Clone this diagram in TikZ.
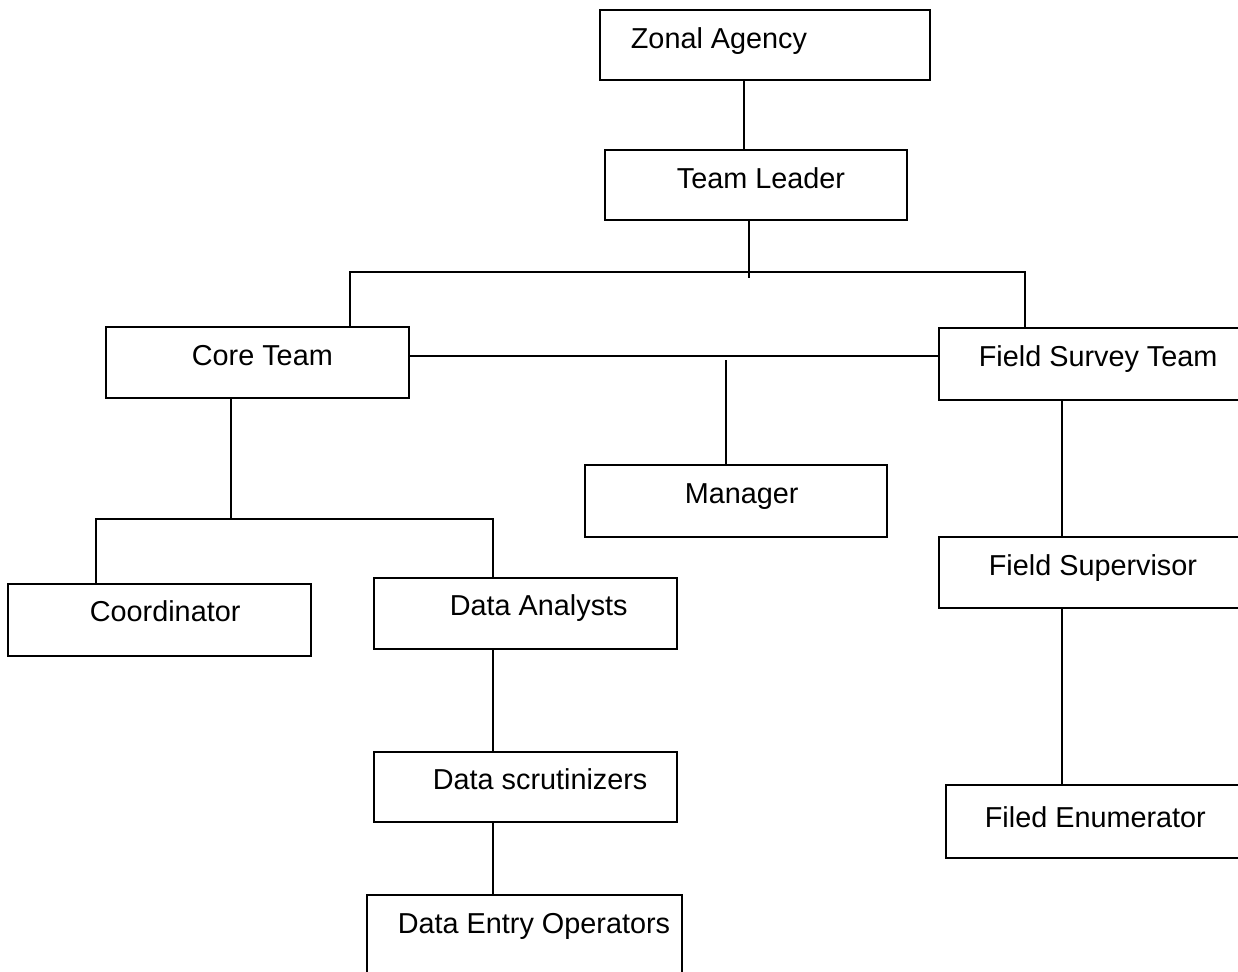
\documentclass[tikz,border=0pt]{standalone}
\usepackage{fontspec}
\setmainfont{Liberation Sans}
\usetikzlibrary{fit}
\begin{document}
\begin{tikzpicture}[x=0.02cm, y=-0.02cm, line width=1pt,
  box/.style={draw, rectangle, inner sep=0pt},
  lbl/.style={anchor=base west, inner sep=0pt, font=\fontsize{16.4}{19}\selectfont}]
\clip (0,0) rectangle (1238,971);
% boxes
\node[box, fit={(600,10) (930,80)}] (za) {};
\node[box, fit={(605,150) (907,220)}] (tl) {};
\node[box, fit={(106,327) (409,398)}] (ct) {};
\node[box, fit={(939,328) (1260,400)}] (fst) {};
\node[box, fit={(585,465) (887,537)}] (mgr) {};
\node[box, fit={(8,584) (311,656)}] (coord) {};
\node[box, fit={(374,578) (677,649)}] (da) {};
\node[box, fit={(939,537) (1260,608)}] (fsup) {};
\node[box, fit={(374,752) (677,822)}] (ds) {};
\node[box, fit={(946,785) (1260,858)}] (fe) {};
\node[box, fit={(367,895) (682,1000)}] (deo) {};
% texts
\node[lbl] (zat) at (630,48) {Zonal Agency};
\node[lbl] (tlt) at (676,188) {Team Leader};
\node[lbl] (ctt) at (191,365) {Core Team};
\node[lbl] (fstt) at (978,366) {Field Survey Team};
\node[lbl] (mgrt) at (684,503) {Manager};
\node[lbl] (coordt) at (89,621) {Coordinator};
\node[lbl] (dat) at (449,615) {Data Analysts};
\node[lbl] (fsupt) at (988,575) {Field Supervisor};
\node[lbl] (dst) at (432,789) {Data scrutinizers};
\node[lbl] (fet) at (984,827) {Filed Enumerator};
\node[lbl] (deot) at (397,933) {Data Entry Operators};
% junctions
\coordinate (j1) at (749,272);
\coordinate (j2) at (726,356);
\coordinate (j3) at (231,519);
% connectors
\draw (za.south -| 744,0) -- (tl.north -| 744,0);
\draw (tl.south -| j1) -- ++(0,57);
\draw (ct.north -| 350,0) |- (j1) -| (fst.north -| 1025,0);
\draw (ct.east |- j2) -- (fst.west |- j2);
\draw ([yshift=-4*0.02cm]j2) -- (mgr.north -| j2);
\draw (ct.south -| j3) -- (j3);
\draw (coord.north -| 96,0) |- (j3) -| (da.north -| 493,0);
\draw (da.south -| 493,0) -- (ds.north -| 493,0);
\draw (ds.south -| 493,0) -- (deo.north -| 493,0);
\draw (fst.south -| 1062,0) -- (fsup.north -| 1062,0);
\draw (fsup.south -| 1062,0) -- (fe.north -| 1062,0);
\end{tikzpicture}
\end{document}
